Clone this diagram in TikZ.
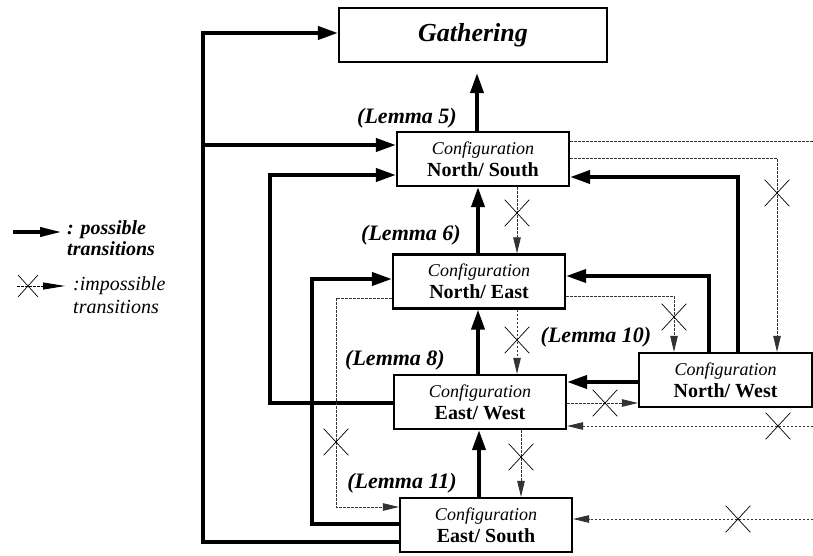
\documentclass[tikz,border=0pt]{standalone}
\usepackage{fontspec}
\setmainfont{Liberation Serif}
\usetikzlibrary{arrows.meta,shapes.misc}

% two-line label of a configuration box
\newcommand{\cfgtext}[1]{\textit{Configuration}\\{\fontsize{20}{22}\selectfont\bfseries #1}}

\begin{document}
\begin{tikzpicture}[x=1pt,y=-1pt,
  box/.style={draw,line width=2.2pt,minimum width=172pt,minimum height=54pt,
    inner sep=0pt,align=center,font=\fontsize{18}{22}\selectfont},
  possible/.style={line width=3.8pt,-{Triangle[length=20pt,width=13pt]}},
  dotline/.style={line width=0.9pt,black!80,dash pattern=on 2.5pt off 1.5pt},
  impossible/.style={dotline,-{Triangle[length=16pt,width=7.5pt]}},
  xmark/.style={draw,cross out,line width=0.7pt,minimum width=24pt,
    minimum height=26pt,inner sep=0pt},
  lemma/.style={font=\fontsize{22}{26}\selectfont\bfseries\itshape},
]
\useasboundingbox (0,0) rectangle (813,556);

% states
\node[box,minimum width=268pt,font=\fontsize{26}{30}\selectfont\bfseries\itshape]
  (G) at (473,35) {Gathering};
\node[box] (NS) at (483,159) {\cfgtext{North/ South}};
\node[box] (NE) at (479,281.5) {\cfgtext{North/ East}};
\node[box] (EW) at (480,402) {\cfgtext{East/ West}};
\node[box] (ES) at (486,525) {\cfgtext{East/ South}};
\node[box,minimum width=173pt] (NW) at (725.5,380) {\cfgtext{North/ West}};

% lemma labels
\node[lemma] (L5) at (407,118) {(Lemma 5)};
\node[lemma] (L6) at (411,235) {(Lemma 6)};
\node[lemma] (L8) at (395,360) {(Lemma 8)};
\node[lemma] (L10) at (596,337) {(Lemma 10)};
\node[lemma] (L11) at (402,483) {(Lemma 11)};

% possible transitions
\draw[possible,shorten >=10pt] (NS.north -| 477,0) -- (G.south -| 477,0);
\draw[possible] (NE.north -| 478,0) -- (NS.south -| 478,0);
\draw[possible] (EW.north -| 478,0) -- (NE.south -| 478,0);
\draw[possible] (ES.north -| 479,0) -- (EW.south -| 479,0);
\draw[possible] (ES.west |- 0,542) -| (203,33) -- (G.west |- 0,33);
\draw[possible] (203,145) -- (NS.west |- 0,145);
\draw[possible] (EW.west |- 0,403) -| (270,175) -- (NS.west |- 0,175);
\draw[possible] (ES.west |- 0,524) -| (312,279) -- (NE.west |- 0,279);
\draw[possible] (NW.north -| 738,0) |- (NS.east |- 0,177);
\draw[possible] (NW.north -| 709,0) |- (NE.east |- 0,276);
\draw[possible] (NW.west |- 0,382) -- (EW.east |- 0,382);

% impossible transitions
\coordinate (edgeA) at (813,141);
\coordinate (edgeB) at (813,426);
\coordinate (edgeC) at (813,519);
\draw[impossible] (NS.south -| 517,0) -- (NE.north -| 517,0);
\node[xmark] (x1) at (517,213) {};
\draw[impossible] (NE.south -| 517,0) -- (EW.north -| 517,0);
\node[xmark] (x2) at (517,340) {};
\draw[impossible] (EW.south -| 521,0) -- (ES.north -| 521,0);
\node[xmark] (x3) at (521,457) {};
\draw[impossible] (NE.west |- 0,298) -| (336,507) -- (ES.west |- 0,507);
\node[xmark] (x4) at (336,442) {};
\draw[impossible] (NE.east |- 0,296) -| (NW.north -| 674,0);
\node[xmark] (x5) at (674,317) {};
\draw[impossible] (NS.east |- 0,158) -| (NW.north -| 777,0);
\node[xmark] (x6) at (777,193) {};
\draw[dotline] (NS.east |- edgeA) -- (edgeA);
\draw[impossible] (EW.east |- 0,403) -- (NW.west |- 0,403);
\node[xmark] (x7) at (605,403) {};
\draw[impossible] (edgeB) -- (EW.east |- edgeB);
\node[xmark] (x8) at (778,426) {};
\draw[impossible] (edgeC) -- (ES.east |- edgeC);
\node[xmark] (x9) at (738,519) {};

% legend
\coordinate (lpA) at (13,232);
\coordinate (lpB) at (62,232);
\draw[line width=3.8pt,-{Triangle[length=22pt,width=9pt]}] (lpA) -- (lpB);
\node[anchor=north west,inner sep=0pt,align=left,
  font=\fontsize{20}{21}\selectfont\bfseries\itshape] (lpT) at (67,220)
  {: possible\\transitions};
\coordinate (liA) at (17,286);
\coordinate (liB) at (65,286);
\draw[line width=0.8pt,dash pattern=on 2.5pt off 1.5pt,
  -{Triangle[length=22pt,width=7pt]}] (liA) -- (liB);
\node[xmark,minimum width=19pt,minimum height=21pt] (x0) at (28,286) {};
\node[anchor=north west,inner sep=0pt,align=left,
  font=\fontsize{20}{23}\selectfont\itshape] (liT) at (73,276)
  {:impossible\\transitions};
\end{tikzpicture}
\end{document}
